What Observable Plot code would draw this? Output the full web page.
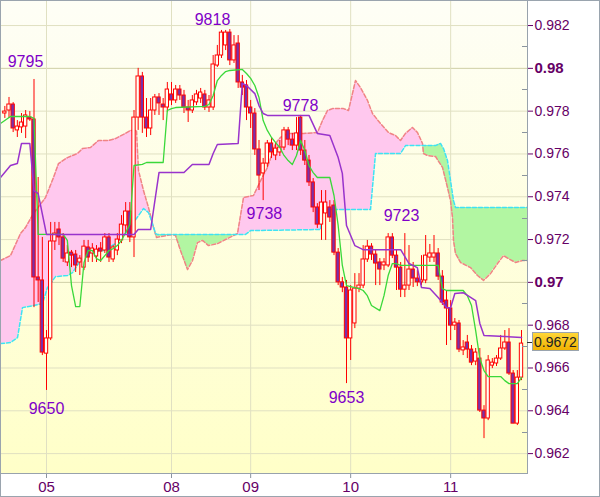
<!DOCTYPE html>
<html>
<head>
<meta charset="utf-8">
<script src="https://cdn.jsdelivr.net/npm/d3@7"></script>
<script src="https://cdn.jsdelivr.net/npm/@observablehq/plot@0.6"></script>
<style>
  html, body { margin: 0; padding: 0; background: #ffffff; }
  #chart { width: 600px; height: 497px; }
</style>
</head>
<body>
<div id="chart"></div>
<script>
// ---------------- DATA ----------------
// hourly candles, index 0 = the candle on the "05" day line
const firstCandle = -10;
const open = [
  0.97789,0.97803,0.97831,0.97710,0.97724,0.97728,0.97770,0.97761,0.97023,0.97009,
  0.96667,0.96738,0.97191,0.97247,0.97210,0.97093,0.97139,0.97130,0.97093,0.97069,
  0.97163,0.97135,0.97121,0.97158,0.97149,0.97210,0.97107,0.97149,0.97196,0.97266,
  0.97331,0.97210,0.97770,0.97962,0.97770,0.97719,0.97803,0.97864,0.97831,0.97817,
  0.97878,0.97850,0.97901,0.97873,0.97817,0.97803,0.97841,0.97859,0.97878,0.97817,
  0.97817,0.98013,0.98060,0.98107,0.98167,0.98037,0.98116,0.97934,0.97920,0.97817,
  0.97789,0.97621,0.97509,0.97555,0.97649,0.97593,0.97607,0.97630,0.97710,0.97667,
  0.97639,0.97770,0.97616,0.97569,0.97467,0.97350,0.97270,0.97322,0.97350,0.97359,
  0.97139,0.97000,0.96976,0.96738,0.96808,0.96971,0.96985,0.97107,0.97167,0.97130,
  0.97093,0.97079,0.97079,0.97210,0.97125,0.97069,0.96966,0.96985,0.97060,0.97018,
  0.97000,0.97009,0.97116,0.97116,0.97135,0.97027,0.96915,0.96878,0.96798,0.96808,
  0.96682,0.96719,0.96686,0.96630,0.96644,0.96401,0.96364,0.96611,0.96621,0.96644,
  0.96691,0.96719,0.96574,0.96340,0.96555
];
const high = [
  0.97822,0.97864,0.97840,0.97756,0.97789,0.97803,0.97798,0.97948,0.97490,0.97210,
  0.96775,0.97280,0.97280,0.97280,0.97228,0.97172,0.97149,0.97149,0.97125,0.97196,
  0.97196,0.97181,0.97172,0.97186,0.97228,0.97228,0.97172,0.97228,0.97312,0.97373,
  0.97373,0.97803,0.98000,0.97981,0.97859,0.97859,0.97878,0.97882,0.97859,0.97934,
  0.97934,0.97920,0.97920,0.97897,0.97850,0.97873,0.97897,0.97906,0.97897,0.97873,
  0.98060,0.98107,0.98177,0.98177,0.98181,0.98153,0.98153,0.97967,0.97943,0.97850,
  0.97812,0.97663,0.97579,0.97663,0.97672,0.97649,0.97663,0.97724,0.97724,0.97696,
  0.97770,0.97780,0.97663,0.97593,0.97485,0.97368,0.97429,0.97429,0.97382,0.97382,
  0.97158,0.97023,0.97009,0.96985,0.97041,0.97041,0.97172,0.97196,0.97181,0.97149,
  0.97111,0.97111,0.97228,0.97228,0.97149,0.97093,0.97228,0.97172,0.97093,0.97055,
  0.97125,0.97219,0.97177,0.97219,0.97158,0.97055,0.96962,0.96915,0.96831,0.96822,
  0.96728,0.96752,0.96705,0.96691,0.96691,0.96424,0.96658,0.96644,0.96658,0.96752,
  0.96775,0.96784,0.96588,0.96588,0.96775
];
const low = [
  0.97766,0.97766,0.97700,0.97677,0.97696,0.97672,0.97752,0.96882,0.96906,0.96658,
  0.96495,0.96728,0.97149,0.97172,0.97093,0.97074,0.97069,0.97046,0.97032,0.97055,
  0.97093,0.97093,0.97093,0.97093,0.97135,0.97093,0.97093,0.97125,0.97181,0.97228,
  0.97186,0.97116,0.97710,0.97696,0.97677,0.97686,0.97780,0.97780,0.97756,0.97794,
  0.97826,0.97836,0.97850,0.97789,0.97747,0.97789,0.97826,0.97836,0.97803,0.97794,
  0.97803,0.98004,0.98046,0.98083,0.98013,0.98023,0.97906,0.97873,0.97756,0.97719,
  0.97593,0.97429,0.97382,0.97537,0.97579,0.97569,0.97588,0.97616,0.97639,0.97616,
  0.97616,0.97593,0.97546,0.97448,0.97326,0.97252,0.97196,0.97196,0.97280,0.97125,
  0.96985,0.96952,0.96527,0.96635,0.96784,0.96952,0.96971,0.97093,0.97102,0.96985,
  0.96985,0.97055,0.97069,0.97111,0.96962,0.96929,0.96929,0.96962,0.96976,0.96980,
  0.96985,0.96994,0.97093,0.97093,0.97009,0.96892,0.96705,0.96728,0.96775,0.96672,
  0.96658,0.96644,0.96611,0.96611,0.96392,0.96270,0.96354,0.96597,0.96607,0.96635,
  0.96682,0.96565,0.96340,0.96331,0.96541
];
const close = [
  0.97798,0.97831,0.97719,0.97728,0.97747,0.97780,0.97761,0.97023,0.97009,0.96672,
  0.96738,0.97191,0.97228,0.97210,0.97111,0.97135,0.97125,0.97079,0.97111,0.97167,
  0.97116,0.97158,0.97153,0.97144,0.97210,0.97116,0.97163,0.97200,0.97270,0.97331,
  0.97210,0.97770,0.97962,0.97770,0.97719,0.97803,0.97864,0.97836,0.97817,0.97901,
  0.97850,0.97901,0.97873,0.97817,0.97803,0.97850,0.97878,0.97887,0.97817,0.97850,
  0.98018,0.98060,0.98167,0.98167,0.98037,0.98107,0.97934,0.97910,0.97817,0.97789,
  0.97621,0.97499,0.97555,0.97649,0.97607,0.97625,0.97630,0.97710,0.97667,0.97639,
  0.97696,0.97616,0.97569,0.97467,0.97350,0.97270,0.97373,0.97373,0.97303,0.97139,
  0.97000,0.96976,0.96738,0.96962,0.96971,0.96985,0.97107,0.97167,0.97130,0.97088,
  0.97060,0.97093,0.97210,0.97125,0.97069,0.96966,0.96985,0.97060,0.97018,0.97000,
  0.97009,0.97125,0.97135,0.97135,0.97027,0.96906,0.96878,0.96798,0.96812,0.96686,
  0.96696,0.96686,0.96625,0.96672,0.96401,0.96364,0.96635,0.96625,0.96644,0.96691,
  0.96719,0.96574,0.96340,0.96555,0.96714
];

// Ichimoku lines: [candle index, price]
const tenkan = [
  [-11.04,0.97742],[-8.64,0.97775],[-4,0.97775],[-3,0.97766],[-2,0.97224],[4,0.97224],
  [5,0.97196],[6,0.96985],[7,0.96887],[8,0.96887],[9,0.97093],[10,0.97149],[11,0.97149],
  [12,0.97111],[13,0.97102],[14,0.97125],[15,0.97149],[16,0.97158],[17,0.97172],[18,0.97196],
  [19,0.97233],[20,0.97270],[21,0.97546],[23,0.97551],[24,0.97560],[28,0.97560],[29,0.97803],
  [30,0.97812],[31,0.97817],[38,0.97822],[39,0.97831],[40,0.97873],[41,0.97943],[42,0.97967],
  [43,0.97985],[44,0.97990],[47,0.97995],[48,0.97976],[49,0.97953],[50,0.97920],[51,0.97864],
  [52,0.97756],[53,0.97710],[54,0.97677],[55,0.97653],[56,0.97630],[57,0.97593],[58,0.97569],
  [59,0.97551],[60,0.97593],[61,0.97663],[62,0.97616],[63,0.97546],[64,0.97513],[65,0.97490],
  [68,0.97490],[69,0.97406],[70,0.97266],[71,0.97079],[72,0.96985],[75,0.96971],[76,0.96962],
  [77,0.96938],[78,0.96892],[80,0.96868],[81,0.96938],[82,0.97032],[83,0.97088],[84,0.97088],
  [85,0.97079],[94,0.97079],[95,0.96971],[96,0.96962],[100,0.96962],[101,0.96938],[102,0.96892],
  [103,0.96775],[104,0.96644],[105,0.96588],[106,0.96560],[109,0.96560],[110,0.96541],
  [111,0.96527],[113,0.96527],[114,0.96555]
];
const kijun = [
  [-11.04,0.97490],[-8.64,0.97546],[-7,0.97555],[-6,0.97649],[-4,0.97649],[-3,0.97429],
  [-2,0.97415],[0,0.97224],[21,0.97224],[22,0.97247],[25,0.97247],[27,0.97513],[33,0.97513],
  [35,0.97551],[39,0.97551],[40,0.97602],[41,0.97644],[46,0.97649],[47,0.97929],[48,0.97920],
  [50,0.97882],[51,0.97826],[52,0.97789],[53,0.97780],[63,0.97780],[65,0.97696],[68,0.97686],
  [70,0.97583],[71,0.97509],[72,0.97266],[73,0.97219],[74,0.97172],[76,0.97153],[85,0.97153],
  [87,0.97088],[89,0.97069],[90,0.96976],[92,0.96971],[94,0.96929],[96,0.96882],[97,0.96882],
  [98,0.96948],[100,0.96952],[103,0.96915],[104,0.96808],[105,0.96752],[110,0.96747],[114,0.96742]
];
const spanA = [
  [-11.04,0.97102],[-8.64,0.97125],[-6.24,0.97228],[-5.04,0.97256],[-3.12,0.97322],[-0.24,0.97396],
  [1.68,0.97490],[2.88,0.97555],[5.04,0.97583],[7.44,0.97602],[8.64,0.97625],[10.56,0.97630],
  [12.48,0.97663],[14.88,0.97663],[16.56,0.97672],[18.96,0.97696],[20.16,0.97710],[21.6,0.97710],
  [22.08,0.97523],[23.28,0.97429],[24.48,0.97350],[25.68,0.97256],[26.4,0.97210],[30.24,0.97224],
  [30.96,0.97219],[32.16,0.97149],[33.84,0.97060],[35.04,0.97102],[36.24,0.97186],[37.44,0.97196],
  [38.88,0.97172],[41.04,0.97181],[43.44,0.97205],[45.84,0.97228],[47.28,0.97396],[49.68,0.97406],
  [51.84,0.97493],[53.04,0.97537],[54.96,0.97649],[56.16,0.97677],[57.84,0.97696],[61.68,0.97696],
  [65.04,0.97700],[66.24,0.97756],[67.44,0.97803],[68.64,0.97812],[71.28,0.97812],[72.48,0.97803],
  [74.16,0.97943],[75.36,0.97910],[77.04,0.97850],[78.24,0.97789],[80.16,0.97742],[82.08,0.97700],
  [83.76,0.97686],[84.96,0.97663],[86.16,0.97696],[87.84,0.97724],[89.04,0.97700],[90.24,0.97649],
  [90.48,0.97602],[91.44,0.97593],[93.36,0.97588],[95.04,0.97537],[96.24,0.97443],[96.96,0.97382],
  [97.44,0.97303],[97.68,0.97196],[98.16,0.97135],[99.36,0.97093],[101.76,0.97069],[103.44,0.97032],
  [104.88,0.97009],[106.56,0.97041],[108.24,0.97088],[109.68,0.97125],[110.88,0.97111],
  [112.56,0.97093],[114.24,0.97102],[115.44,0.97102]
];
const spanB = [
  [-11.04,0.96714],[-8.64,0.96719],[-6.96,0.96742],[-5.76,0.96882],[-3.12,0.96892],[-0.96,0.96901],
  [0.24,0.96976],[2.16,0.97027],[5.04,0.97032],[6.24,0.97046],[8.16,0.97102],[9.36,0.97135],
  [13.68,0.97149],[16.56,0.97181],[18.96,0.97228],[22.08,0.97312],[23.28,0.97345],[24.48,0.97326],
  [25.2,0.97289],[26.16,0.97228],[26.64,0.97224],[47.76,0.97224],[48.96,0.97242],[65.76,0.97247],
  [66.24,0.97340],[77.76,0.97340],[78.96,0.97602],[84.96,0.97602],[86.16,0.97639],[93.36,0.97639],
  [94.56,0.97649],[95.28,0.97625],[96.24,0.97569],[96.96,0.97476],[97.68,0.97382],[98.16,0.97350],
  [115.44,0.97350]
];

// axis ticks / labels
const dayIdx = [0, 30, 49, 73, 97];
const dayLabels = ["05", "08", "09", "10", "11"];
const priceTicks = [0.962, 0.964, 0.966, 0.968, 0.972, 0.974, 0.976, 0.978, 0.982];
const boldTicks = [0.97, 0.98];
const minorTicks = [0.963, 0.965, 0.967, 0.969, 0.971, 0.973, 0.975, 0.977, 0.979, 0.981];
// extreme annotations: [text, index position, price position]
const extremes = [
  ["9795", -5.04, 0.98032], ["9818", 39.84, 0.98226], ["9778", 60.96, 0.97826],
  ["9738", 52.3, 0.97319], ["9723", 85.2, 0.97310], ["9650", 0, 0.96410], ["9653", 72, 0.96460]
];
const lastPrice = 0.9672;

// ---------------- BUILD ----------------
const candles = open.map((o, i) => ({k: firstCandle + i, open: o, high: high[i], low: low[i], close: close[i]}));
const upC = candles.filter(d => d.close >= d.open);
const downC = candles.filter(d => d.close < d.open);

// cloud fill between the two spans (geometry only: merge vertex sets, split at crossings)
function polyAt(pts, k) {
  if (k <= pts[0][0]) return pts[0][1];
  for (let i = 1; i < pts.length; i++) {
    if (k <= pts[i][0]) {
      const [k0, v0] = pts[i - 1], [k1, v1] = pts[i];
      return k1 === k0 ? v1 : v0 + (v1 - v0) * (k - k0) / (k1 - k0);
    }
  }
  return pts[pts.length - 1][1];
}
const cks = Array.from(new Set([...spanA.map(d => d[0]), ...spanB.map(d => d[0])])).sort((a, b) => a - b);
const cpts = cks.map(k => ({k, a: polyAt(spanA, k), b: polyAt(spanB, k)}));
const full = [];
for (let i = 0; i < cpts.length; i++) {
  full.push(cpts[i]);
  if (i + 1 < cpts.length) {
    const p = cpts[i], q = cpts[i + 1];
    const d0 = p.a - p.b, d1 = q.a - q.b;
    if (d0 * d1 < 0) {
      const t = d0 / (d0 - d1);
      const v = p.a + t * (q.a - p.a);
      full.push({k: p.k + t * (q.k - p.k), a: v, b: v});
    }
  }
}
const pinkRows = [], greenRows = [];
let seg = 0, cur = [], curSign = 0;
function flush() {
  if (cur.length > 1 && curSign !== 0) {
    const target = curSign > 0 ? pinkRows : greenRows;
    cur.forEach(p => target.push({...p, seg}));
    seg++;
  }
}
for (const p of full) {
  const d = p.a - p.b;
  const s = Math.abs(d) < 1e-9 ? 0 : (d > 0 ? 1 : -1);
  if (s === 0) { cur.push(p); flush(); cur = [p]; curSign = 0; }
  else if (curSign === 0 || s === curSign) { cur.push(p); curSign = s; }
  else { flush(); cur = [cur[cur.length - 1], p]; curSign = s; }
}
flush();

function bgDefs() {
  const defs = document.createElementNS("http://www.w3.org/2000/svg", "defs");
  defs.innerHTML =
    '<linearGradient id="bgGrad" x1="0" y1="0" x2="0" y2="1">' +
    '<stop offset="0" stop-color="#fefef6"/><stop offset="1" stop-color="#ffffc8"/></linearGradient>' +
    '<linearGradient id="tagGrad" x1="0" y1="0" x2="0" y2="1">' +
    '<stop offset="0" stop-color="#ffd83a"/><stop offset="1" stop-color="#f0b000"/></linearGradient>';
  return defs;
}

const fmt = d => String(+d.toFixed(3));
const FONT = "'Liberation Sans', Arial, Helvetica, sans-serif";

const plot = Plot.plot({
  width: 600,
  height: 497,
  marginTop: 0,
  marginLeft: 0,
  marginRight: 73,
  marginBottom: 24,
  x: {domain: [-11.04, 115.44], axis: null, label: null},
  y: {domain: [0.96107, 0.98317], axis: null, label: null},
  style: {background: "#ffffff", fontFamily: FONT, overflow: "visible"},
  marks: [
    bgDefs,
    Plot.frame({fill: "url(#bgGrad)", stroke: "none"}),
    Plot.ruleY(priceTicks, {stroke: "#e0e0c2", strokeWidth: 1}),
    Plot.ruleY(boldTicks, {stroke: "#cfcfa6", strokeWidth: 1}),
    Plot.ruleX(dayIdx, {stroke: "#e0e0c2", strokeWidth: 1}),
    Plot.areaY(pinkRows, {x: "k", y1: "a", y2: "b", z: "seg", fill: "#ffc8ee", clip: true}),
    Plot.areaY(greenRows, {x: "k", y1: "a", y2: "b", z: "seg", fill: "#b2f6a2", clip: true}),
    Plot.line(spanA, {x: d => d[0], y: d => d[1], stroke: "#f08484", strokeWidth: 1.5, strokeDasharray: "4,2", clip: true}),
    Plot.line(spanB, {x: d => d[0], y: d => d[1], stroke: "#3ee2f4", strokeWidth: 1.5, strokeDasharray: "4,2", clip: true}),
    Plot.ruleX(candles, {x: "k", y1: "low", y2: "high", stroke: "#ff0000", strokeWidth: 1, clip: true}),
    Plot.rect(upC, {x1: d => d.k - 0.4, x2: d => d.k + 0.4, y1: "open", y2: "close", fill: "#fffff4", stroke: "#ff0000", strokeWidth: 1, clip: true}),
    Plot.rect(downC, {x1: d => d.k - 0.4, x2: d => d.k + 0.4, y1: "open", y2: "close", fill: "#7a30a8", stroke: "#ff0000", strokeWidth: 1, clip: true}),
    Plot.line(tenkan, {x: d => d[0], y: d => d[1], stroke: "#3ad83a", strokeWidth: 1.3, clip: true}),
    Plot.line(kijun, {x: d => d[0], y: d => d[1], stroke: "#9933cc", strokeWidth: 1.5, clip: true}),
    Plot.text(extremes, {x: d => d[1], y: d => d[2], text: d => d[0], fontSize: 16, fill: "#7f00c8", fontFamily: FONT}),
    Plot.axisY(priceTicks, {anchor: "right", label: null, tickSize: 5, tickPadding: 2, tickFormat: fmt, fontSize: 14, color: "#660066", fill: "#660066", stroke: "#660066"}),
    Plot.axisY(boldTicks, {anchor: "right", label: null, tickSize: 5, tickPadding: 2, tickFormat: fmt, fontSize: 15, fontWeight: "bold", color: "#660066", fill: "#660066", stroke: "#660066"}),
    Plot.axisX(dayIdx, {anchor: "bottom", label: null, tickSize: 5, tickPadding: 3, fontSize: 15, tickFormat: d => dayLabels[dayIdx.indexOf(d)], color: "#660066", fill: "#660066", stroke: "#8a949e"})
  ]
});

document.getElementById("chart").appendChild(plot);

// decorations drawn with the plot's own y scale
const ys = plot.scale("y");
const svg = d3.select(plot);
const g = svg.append("g");
const plotRight = 527, plotBottom = 473;
g.append("line").attr("x1", plotRight + 0.5).attr("x2", plotRight + 0.5).attr("y1", 0).attr("y2", plotBottom)
  .attr("stroke", "#98a2ac").attr("stroke-width", 1);
g.append("line").attr("x1", 0).attr("x2", plotRight + 1).attr("y1", plotBottom + 0.5).attr("y2", plotBottom + 0.5)
  .attr("stroke", "#98a2ac").attr("stroke-width", 1);
minorTicks.forEach(v => {
  const y = Math.round(ys.apply(v)) + 0.5;
  g.append("line").attr("x1", plotRight - 5).attr("x2", plotRight).attr("y1", y).attr("y2", y)
    .attr("stroke", "#8a949e").attr("stroke-width", 1);
});
const ty = ys.apply(lastPrice);
g.append("line").attr("x1", plotRight).attr("x2", plotRight + 5).attr("y1", Math.round(ty) + 0.5).attr("y2", Math.round(ty) + 0.5)
  .attr("stroke", "#333333");
g.append("rect").attr("x", 532.5).attr("y", Math.round(ty) - 9.5).attr("width", 46).attr("height", 18)
  .attr("fill", "url(#tagGrad)").attr("stroke", "#9aa4ae");
g.append("text").attr("x", 555.5).attr("y", ty).attr("dy", "0.36em").attr("text-anchor", "middle")
  .attr("font-size", 14).attr("font-family", FONT).attr("fill", "#222222").text(lastPrice.toFixed(4));
g.append("rect").attr("x", 0.5).attr("y", 0.5).attr("width", 599).attr("height", 496)
  .attr("fill", "none").attr("stroke", "#9aa4ae");
</script>
</body>
</html>
